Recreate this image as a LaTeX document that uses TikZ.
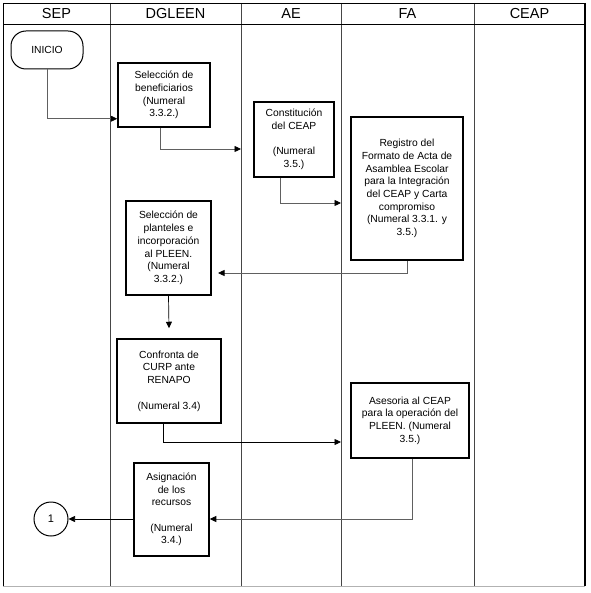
\documentclass[tikz,border=0pt]{standalone}
\usepackage{fontspec}
\setmainfont{Liberation Sans}
\usetikzlibrary{arrows.meta,calc}
\begin{document}
\begin{tikzpicture}[x=1pt,y=-1pt,
  pbox/.style={draw=black,line width=1.5pt,fill=white,inner sep=0pt,align=center,
    font=\fontsize{10.3}{12.7}\selectfont},
  conn/.style={draw=gray!75!black,line width=0.7pt,-{Triangle[length=6.5pt,width=6pt,fill=black,color=black]}},
  connk/.style={conn,draw=black},
  lane/.style={draw=gray!55!black,line width=0.6pt},
  head/.style={font=\fontsize{14.5}{16}\selectfont,inner sep=0pt}]
\useasboundingbox (0,0) rectangle (590,593);
% lanes
\draw[lane] (110,3) -- (110,586);
\draw[lane] (241,3) -- (241,586);
\draw[lane] (341,3) -- (341,586);
\draw[lane] (474,3) -- (474,586);
\draw[draw=gray!60,line width=0.8pt] (3,586) -- (585,586);
\draw[line width=0.8pt] (3,586) -- (3,3) -- (585,3);
\draw[line width=1.2pt] (585,3) -- (585,586);
\draw[line width=0.8pt] (3,24) -- (585,24);
% headers
\node[head] (hsep) at (56.5,14) {SEP};
\node[head] (hdg) at (175.5,14) {DGLEEN};
\node[head] (hae) at (291,14) {AE};
\node[head] (hfa) at (407.5,14) {FA};
\node[head] (hce) at (529.5,14) {CEAP};
% nodes
\node[draw=black,line width=1pt,rounded corners=15pt,minimum width=72pt,minimum height=38pt,inner sep=0pt,
  font=\fontsize{10.3}{12}\selectfont] (ini) at (47,50) {INICIO};
\node[pbox,minimum width=92pt,minimum height=64pt] (b1) at (164,95)
  {Selección de\\beneficiarios\\(Numeral\\3.3.2.)};
\node[pbox,minimum width=80pt,minimum height=75pt] (b2) at (294,139.5)
  {Constitución\\del CEAP\\[12.7pt](Numeral\\3.5.)};
\node[pbox,minimum width=112pt,minimum height=143pt] (b3) at (407,188.5)
  {Registro del\\Formato de Acta de\\Asamblea Escolar\\para la Integración\\del CEAP y Carta\\compromiso\\(Numeral 3.3.1. y\\3.5.)};
\node[pbox,minimum width=85pt,minimum height=94pt] (b4) at (168.5,248)
  {Selección de\\planteles e\\incorporación\\al PLEEN.\\(Numeral\\3.3.2.)};
\node[pbox,minimum width=104pt,minimum height=84pt] (b5) at (169,381)
  {Confronta de\\CURP ante\\RENAPO\\[12.7pt](Numeral 3.4)};
\node[pbox,minimum width=118pt,minimum height=75pt] (b6) at (410,420.5)
  {Asesoria al CEAP\\para la operación del\\PLEEN. (Numeral\\3.5.)};
\node[pbox,minimum width=75pt,minimum height=93pt] (b7) at (171.5,509.5)
  {Asignación\\de los\\recursos\\[12.7pt](Numeral\\3.4.)};
\node[draw=black,line width=1pt,circle,minimum size=34pt,inner sep=0pt,
  font=\fontsize{11}{12}\selectfont] (c1) at (51,519) {1};
% free ends
\coordinate (l2) at (241,149);
\coordinate (l3) at (341,203);
\coordinate (t4) at (218,273);
\coordinate (l6) at (341,442);
% connectors
\draw[conn] (ini.south) |- ([yshift=9pt]b1.south west);
\draw[conn] ([xshift=-4pt]b1.south) |- (l2);
\draw[conn] ([xshift=-14pt]b2.south) |- (l3);
\draw[conn] (b3.south) |- (t4);
\draw[connk] (b4.south) -- ([yshift=10pt]b5.north);
\draw[connk] ([xshift=-6pt]b5.south) |- (l6);
\draw[conn] ([xshift=2pt]b6.south) |- ([yshift=-9.5pt]b7.east);
\draw[connk] ([yshift=-9.5pt]b7.west) -- (c1.east);
\end{tikzpicture}
\end{document}
